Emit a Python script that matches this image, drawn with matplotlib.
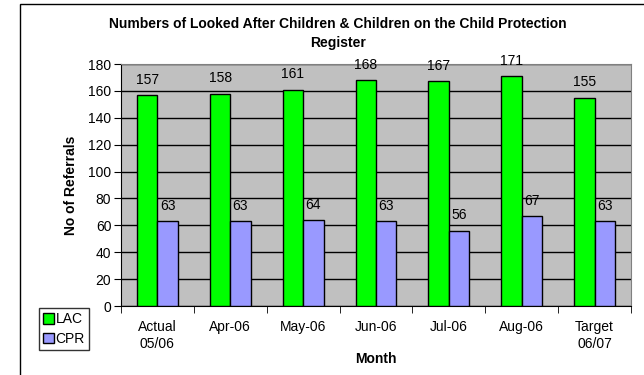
import numpy as np
import matplotlib.pyplot as plt
from matplotlib.patches import Rectangle

plt.rcParams['font.family'] = ['Liberation Sans', 'DejaVu Sans']

months = ["Actual\n05/06", "Apr-06", "May-06", "Jun-06", "Jul-06", "Aug-06", "Target\n06/07"]
lac = [157, 158, 161, 168, 167, 171, 155]
cpr = [63, 63, 64, 63, 56, 67, 63]

W, H = 644, 375
fig = plt.figure(figsize=(W / 100, H / 100), dpi=100)
fig.patch.set_facecolor('white')

# outer chart frame (runs off the right and bottom edges)
fig.patches.append(Rectangle((20 / W, -0.1), 1.2, 1.1 - 4 / H, transform=fig.transFigure,
                             fill=False, edgecolor='black', linewidth=1.0))

ax = fig.add_axes([121 / W, 69 / H, 510 / W, 242 / H])
ax.set_facecolor('#C0C0C0')

x = np.arange(len(months))
w = 0.28
b1 = ax.bar(x - w / 2, lac, w, color='#00FF00', edgecolor='black', linewidth=1.0, label='LAC', zorder=3)
b2 = ax.bar(x + w / 2, cpr, w, color='#9999FF', edgecolor='black', linewidth=1.0, label='CPR', zorder=3)

for bars, vals in ((b1, lac), (b2, cpr)):
    for r, v in zip(bars, vals):
        ax.annotate(str(v), (r.get_x() + r.get_width() / 2, v), xytext=(0, 6),
                    textcoords='offset points', ha='center', va='bottom', fontsize=10,
                    annotation_clip=False)

ax.set_ylim(0, 180)
ax.set_yticks(range(0, 181, 20))
ax.set_xlim(-0.5, len(months) - 0.5)
ax.yaxis.grid(True, color='black', linewidth=1.0, zorder=0)
ax.set_axisbelow(True)

ax.set_xticks(x)
ax.set_xticklabels(months, fontsize=10, linespacing=1.25)
ax.set_xticks(np.arange(-0.5, len(months), 1), minor=True)
ax.tick_params(axis='x', which='major', length=0, pad=10)
ax.tick_params(axis='x', which='minor', length=5, direction='out')
ax.tick_params(axis='y', length=5, direction='out', labelsize=10, pad=2)

for s in ('top', 'right'):
    ax.spines[s].set_color('#808080')
for s in ('left', 'bottom'):
    ax.spines[s].set_color('black')

ax.set_ylabel('No of Referrals', fontsize=10, fontweight='bold', labelpad=7)
ax.set_xlabel('Month', fontsize=10, fontweight='bold', labelpad=1)

fig.text(338 / W, 1 - 17 / H, 'Numbers of Looked After Children & Children on the Child Protection\nRegister',
         ha='center', va='top', fontsize=10, fontweight='bold', linespacing=1.45)

leg = ax.legend(loc='lower left', bbox_to_anchor=(39 / W, 25 / H), bbox_transform=fig.transFigure,
                fontsize=10, frameon=True, fancybox=False, handlelength=0.75, handleheight=0.75,
                handletextpad=0.15, borderpad=0.3, labelspacing=0.4, borderaxespad=0)
leg.get_frame().set_edgecolor('black')
leg.get_frame().set_linewidth(1.0)

fig.savefig('out.png', dpi=100)
